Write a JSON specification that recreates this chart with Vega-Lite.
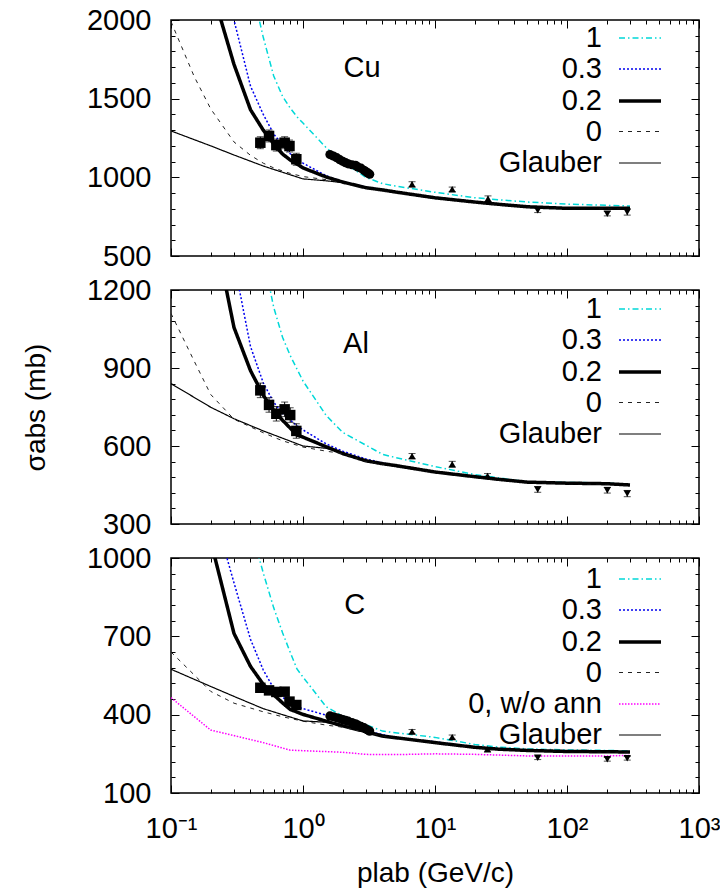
{
"$schema": "https://vega.github.io/schema/vega-lite/v6.json",
"background": "white",
"padding": {"left": 21, "top": 5, "right": 5, "bottom": 5},
"datasets": {
"curves": [
{"panel":"Cu","model":"1","p":0.4,"s":2240},{"panel":"Cu","model":"1","p":0.5,"s":1890},{"panel":"Cu","model":"1","p":0.6,"s":1644},{"panel":"Cu","model":"1","p":0.7,"s":1515},{"panel":"Cu","model":"1","p":0.8,"s":1440},{"panel":"Cu","model":"1","p":0.9,"s":1385},{"panel":"Cu","model":"1","p":1,"s":1345},{"panel":"Cu","model":"1","p":1.5,"s":1188},{"panel":"Cu","model":"1","p":2,"s":1098},{"panel":"Cu","model":"1","p":3,"s":1000},{"panel":"Cu","model":"1","p":4,"s":960},{"panel":"Cu","model":"1","p":5,"s":945},{"panel":"Cu","model":"1","p":10,"s":905},{"panel":"Cu","model":"1","p":20,"s":870},{"panel":"Cu","model":"1","p":30,"s":858},{"panel":"Cu","model":"1","p":50,"s":843},{"panel":"Cu","model":"1","p":100,"s":830},{"panel":"Cu","model":"1","p":200,"s":822},{"panel":"Cu","model":"1","p":300,"s":818},
{"panel":"Cu","model":"0.3","p":0.28,"s":2110},{"panel":"Cu","model":"0.3","p":0.3,"s":2000},{"panel":"Cu","model":"0.3","p":0.4,"s":1580},{"panel":"Cu","model":"0.3","p":0.5,"s":1400},{"panel":"Cu","model":"0.3","p":0.6,"s":1275},{"panel":"Cu","model":"0.3","p":0.7,"s":1205},{"panel":"Cu","model":"0.3","p":0.8,"s":1150},{"panel":"Cu","model":"0.3","p":0.9,"s":1115},{"panel":"Cu","model":"0.3","p":1,"s":1090},{"panel":"Cu","model":"0.3","p":1.5,"s":1010},{"panel":"Cu","model":"0.3","p":2,"s":972},{"panel":"Cu","model":"0.3","p":3,"s":938},{"panel":"Cu","model":"0.3","p":5,"s":908},{"panel":"Cu","model":"0.3","p":10,"s":872},{"panel":"Cu","model":"0.3","p":20,"s":845},{"panel":"Cu","model":"0.3","p":30,"s":831},{"panel":"Cu","model":"0.3","p":50,"s":815},{"panel":"Cu","model":"0.3","p":100,"s":805},{"panel":"Cu","model":"0.3","p":200,"s":804},{"panel":"Cu","model":"0.3","p":300,"s":804},
{"panel":"Cu","model":"0.2","p":0.2,"s":2220},{"panel":"Cu","model":"0.2","p":0.3,"s":1718},{"panel":"Cu","model":"0.2","p":0.4,"s":1430},{"panel":"Cu","model":"0.2","p":0.5,"s":1300},{"panel":"Cu","model":"0.2","p":0.6,"s":1212},{"panel":"Cu","model":"0.2","p":0.7,"s":1148},{"panel":"Cu","model":"0.2","p":0.8,"s":1110},{"panel":"Cu","model":"0.2","p":0.9,"s":1085},{"panel":"Cu","model":"0.2","p":1,"s":1060},{"panel":"Cu","model":"0.2","p":1.5,"s":1002},{"panel":"Cu","model":"0.2","p":2,"s":970},{"panel":"Cu","model":"0.2","p":3,"s":934},{"panel":"Cu","model":"0.2","p":4,"s":920},{"panel":"Cu","model":"0.2","p":5,"s":907},{"panel":"Cu","model":"0.2","p":10,"s":870},{"panel":"Cu","model":"0.2","p":20,"s":843},{"panel":"Cu","model":"0.2","p":30,"s":829},{"panel":"Cu","model":"0.2","p":50,"s":813},{"panel":"Cu","model":"0.2","p":100,"s":803},{"panel":"Cu","model":"0.2","p":200,"s":803},{"panel":"Cu","model":"0.2","p":300,"s":803},
{"panel":"Cu","model":"0","p":0.1,"s":1990},{"panel":"Cu","model":"0","p":0.15,"s":1640},{"panel":"Cu","model":"0","p":0.2,"s":1435},{"panel":"Cu","model":"0","p":0.3,"s":1225},{"panel":"Cu","model":"0","p":0.4,"s":1140},{"panel":"Cu","model":"0","p":0.5,"s":1090},{"panel":"Cu","model":"0","p":0.6,"s":1060},{"panel":"Cu","model":"0","p":0.7,"s":1040},{"panel":"Cu","model":"0","p":0.8,"s":1025},{"panel":"Cu","model":"0","p":1,"s":1005},{"panel":"Cu","model":"0","p":1.5,"s":985},{"panel":"Cu","model":"0","p":2,"s":965},{"panel":"Cu","model":"0","p":3,"s":930},{"panel":"Cu","model":"0","p":5,"s":903},{"panel":"Cu","model":"0","p":10,"s":868},{"panel":"Cu","model":"0","p":20,"s":841},{"panel":"Cu","model":"0","p":30,"s":827},{"panel":"Cu","model":"0","p":50,"s":811},{"panel":"Cu","model":"0","p":100,"s":801},{"panel":"Cu","model":"0","p":200,"s":801},{"panel":"Cu","model":"0","p":300,"s":801},
{"panel":"Cu","model":"Glauber","p":0.1,"s":1295},{"panel":"Cu","model":"Glauber","p":0.2,"s":1200},{"panel":"Cu","model":"Glauber","p":0.3,"s":1142},{"panel":"Cu","model":"Glauber","p":0.5,"s":1072},{"panel":"Cu","model":"Glauber","p":0.7,"s":1032},{"panel":"Cu","model":"Glauber","p":1,"s":990},{"panel":"Cu","model":"Glauber","p":1.5,"s":978},{"panel":"Cu","model":"Glauber","p":2,"s":966},{"panel":"Cu","model":"Glauber","p":3,"s":933},{"panel":"Cu","model":"Glauber","p":5,"s":904},{"panel":"Cu","model":"Glauber","p":10,"s":868},{"panel":"Cu","model":"Glauber","p":20,"s":842},{"panel":"Cu","model":"Glauber","p":30,"s":828},{"panel":"Cu","model":"Glauber","p":50,"s":812},{"panel":"Cu","model":"Glauber","p":100,"s":802},{"panel":"Cu","model":"Glauber","p":200,"s":800},{"panel":"Cu","model":"Glauber","p":300,"s":800},

{"panel":"Al","model":"1","p":0.5,"s":1330},{"panel":"Al","model":"1","p":0.6,"s":1133},{"panel":"Al","model":"1","p":0.7,"s":1018},{"panel":"Al","model":"1","p":0.8,"s":948},{"panel":"Al","model":"1","p":0.9,"s":896},{"panel":"Al","model":"1","p":1,"s":850},{"panel":"Al","model":"1","p":1.5,"s":717},{"panel":"Al","model":"1","p":2,"s":652},{"panel":"Al","model":"1","p":3,"s":603},{"panel":"Al","model":"1","p":4,"s":568},{"panel":"Al","model":"1","p":5,"s":556},{"panel":"Al","model":"1","p":10,"s":521},{"panel":"Al","model":"1","p":20,"s":490},{"panel":"Al","model":"1","p":30,"s":478},{"panel":"Al","model":"1","p":50,"s":462},{"panel":"Al","model":"1","p":100,"s":460},{"panel":"Al","model":"1","p":200,"s":458},{"panel":"Al","model":"1","p":300,"s":451},
{"panel":"Al","model":"0.3","p":0.3,"s":1308},{"panel":"Al","model":"0.3","p":0.4,"s":983},{"panel":"Al","model":"0.3","p":0.5,"s":843},{"panel":"Al","model":"0.3","p":0.6,"s":768},{"panel":"Al","model":"0.3","p":0.7,"s":725},{"panel":"Al","model":"0.3","p":0.8,"s":700},{"panel":"Al","model":"0.3","p":0.9,"s":678},{"panel":"Al","model":"0.3","p":1,"s":662},{"panel":"Al","model":"0.3","p":1.5,"s":608},{"panel":"Al","model":"0.3","p":2,"s":580},{"panel":"Al","model":"0.3","p":3,"s":550},{"panel":"Al","model":"0.3","p":5,"s":524},{"panel":"Al","model":"0.3","p":10,"s":501},{"panel":"Al","model":"0.3","p":20,"s":481},{"panel":"Al","model":"0.3","p":30,"s":471},{"panel":"Al","model":"0.3","p":50,"s":461},{"panel":"Al","model":"0.3","p":100,"s":458},{"panel":"Al","model":"0.3","p":200,"s":456},{"panel":"Al","model":"0.3","p":300,"s":451},
{"panel":"Al","model":"0.2","p":0.2,"s":1500},{"panel":"Al","model":"0.2","p":0.3,"s":1056},{"panel":"Al","model":"0.2","p":0.4,"s":890},{"panel":"Al","model":"0.2","p":0.5,"s":795},{"panel":"Al","model":"0.2","p":0.6,"s":737},{"panel":"Al","model":"0.2","p":0.7,"s":699},{"panel":"Al","model":"0.2","p":0.8,"s":669},{"panel":"Al","model":"0.2","p":0.9,"s":642},{"panel":"Al","model":"0.2","p":1,"s":634},{"panel":"Al","model":"0.2","p":1.5,"s":597},{"panel":"Al","model":"0.2","p":2,"s":571},{"panel":"Al","model":"0.2","p":3,"s":543},{"panel":"Al","model":"0.2","p":4,"s":532},{"panel":"Al","model":"0.2","p":5,"s":525},{"panel":"Al","model":"0.2","p":10,"s":500},{"panel":"Al","model":"0.2","p":20,"s":482},{"panel":"Al","model":"0.2","p":30,"s":472},{"panel":"Al","model":"0.2","p":50,"s":461},{"panel":"Al","model":"0.2","p":100,"s":457},{"panel":"Al","model":"0.2","p":200,"s":455},{"panel":"Al","model":"0.2","p":300,"s":450},
{"panel":"Al","model":"0","p":0.1,"s":1110},{"panel":"Al","model":"0","p":0.15,"s":926},{"panel":"Al","model":"0","p":0.2,"s":798},{"panel":"Al","model":"0","p":0.3,"s":703},{"panel":"Al","model":"0","p":0.5,"s":651},{"panel":"Al","model":"0","p":0.7,"s":620},{"panel":"Al","model":"0","p":1,"s":596},{"panel":"Al","model":"0","p":1.5,"s":580},{"panel":"Al","model":"0","p":2,"s":571},{"panel":"Al","model":"0","p":3,"s":541},{"panel":"Al","model":"0","p":5,"s":521},{"panel":"Al","model":"0","p":10,"s":498},{"panel":"Al","model":"0","p":20,"s":480},{"panel":"Al","model":"0","p":30,"s":470},{"panel":"Al","model":"0","p":50,"s":459},{"panel":"Al","model":"0","p":100,"s":455},{"panel":"Al","model":"0","p":200,"s":453},{"panel":"Al","model":"0","p":300,"s":449},
{"panel":"Al","model":"Glauber","p":0.1,"s":840},{"panel":"Al","model":"Glauber","p":0.2,"s":749},{"panel":"Al","model":"Glauber","p":0.3,"s":705},{"panel":"Al","model":"Glauber","p":0.5,"s":658},{"panel":"Al","model":"Glauber","p":0.7,"s":630},{"panel":"Al","model":"Glauber","p":1,"s":600},{"panel":"Al","model":"Glauber","p":1.5,"s":591},{"panel":"Al","model":"Glauber","p":2,"s":574},{"panel":"Al","model":"Glauber","p":3,"s":544},{"panel":"Al","model":"Glauber","p":5,"s":522},{"panel":"Al","model":"Glauber","p":10,"s":499},{"panel":"Al","model":"Glauber","p":20,"s":481},{"panel":"Al","model":"Glauber","p":30,"s":471},{"panel":"Al","model":"Glauber","p":50,"s":460},{"panel":"Al","model":"Glauber","p":100,"s":456},{"panel":"Al","model":"Glauber","p":200,"s":454},{"panel":"Al","model":"Glauber","p":300,"s":450},

{"panel":"C","model":"1","p":0.4,"s":1120},{"panel":"C","model":"1","p":0.5,"s":943},{"panel":"C","model":"1","p":0.6,"s":809},{"panel":"C","model":"1","p":0.7,"s":714},{"panel":"C","model":"1","p":0.8,"s":639},{"panel":"C","model":"1","p":0.9,"s":575},{"panel":"C","model":"1","p":1,"s":544},{"panel":"C","model":"1","p":1.5,"s":430},{"panel":"C","model":"1","p":2,"s":395},{"panel":"C","model":"1","p":3,"s":362},{"panel":"C","model":"1","p":4,"s":337},{"panel":"C","model":"1","p":5,"s":331},{"panel":"C","model":"1","p":10,"s":313},{"panel":"C","model":"1","p":20,"s":286},{"panel":"C","model":"1","p":30,"s":276},{"panel":"C","model":"1","p":50,"s":269},{"panel":"C","model":"1","p":100,"s":265},{"panel":"C","model":"1","p":200,"s":263},{"panel":"C","model":"1","p":300,"s":261},
{"panel":"C","model":"0.3","p":0.2,"s":1220},{"panel":"C","model":"0.3","p":0.3,"s":905},{"panel":"C","model":"0.3","p":0.4,"s":689},{"panel":"C","model":"0.3","p":0.5,"s":571},{"panel":"C","model":"0.3","p":0.6,"s":501},{"panel":"C","model":"0.3","p":0.7,"s":468},{"panel":"C","model":"0.3","p":0.8,"s":438},{"panel":"C","model":"0.3","p":0.9,"s":430},{"panel":"C","model":"0.3","p":1,"s":423},{"panel":"C","model":"0.3","p":1.5,"s":398},{"panel":"C","model":"0.3","p":2,"s":372},{"panel":"C","model":"0.3","p":3,"s":338},{"panel":"C","model":"0.3","p":5,"s":313},{"panel":"C","model":"0.3","p":10,"s":296},{"panel":"C","model":"0.3","p":20,"s":276},{"panel":"C","model":"0.3","p":30,"s":269},{"panel":"C","model":"0.3","p":50,"s":263},{"panel":"C","model":"0.3","p":100,"s":259},{"panel":"C","model":"0.3","p":200,"s":258},{"panel":"C","model":"0.3","p":300,"s":258},
{"panel":"C","model":"0.2","p":0.2,"s":1065},{"panel":"C","model":"0.2","p":0.3,"s":711},{"panel":"C","model":"0.2","p":0.4,"s":585},{"panel":"C","model":"0.2","p":0.5,"s":516},{"panel":"C","model":"0.2","p":0.6,"s":476},{"panel":"C","model":"0.2","p":0.7,"s":445},{"panel":"C","model":"0.2","p":0.8,"s":420},{"panel":"C","model":"0.2","p":0.9,"s":410},{"panel":"C","model":"0.2","p":1,"s":401},{"panel":"C","model":"0.2","p":1.5,"s":375},{"panel":"C","model":"0.2","p":2,"s":357},{"panel":"C","model":"0.2","p":3,"s":335},{"panel":"C","model":"0.2","p":4,"s":318},{"panel":"C","model":"0.2","p":5,"s":312},{"panel":"C","model":"0.2","p":10,"s":293},{"panel":"C","model":"0.2","p":20,"s":275},{"panel":"C","model":"0.2","p":30,"s":268},{"panel":"C","model":"0.2","p":50,"s":263},{"panel":"C","model":"0.2","p":100,"s":259},{"panel":"C","model":"0.2","p":200,"s":258},{"panel":"C","model":"0.2","p":300,"s":257},
{"panel":"C","model":"0","p":0.1,"s":640},{"panel":"C","model":"0","p":0.15,"s":552},{"panel":"C","model":"0","p":0.2,"s":489},{"panel":"C","model":"0","p":0.3,"s":444},{"panel":"C","model":"0","p":0.5,"s":411},{"panel":"C","model":"0","p":0.7,"s":392},{"panel":"C","model":"0","p":1,"s":375},{"panel":"C","model":"0","p":1.5,"s":360},{"panel":"C","model":"0","p":2,"s":352},{"panel":"C","model":"0","p":3,"s":332},{"panel":"C","model":"0","p":5,"s":310},{"panel":"C","model":"0","p":10,"s":292},{"panel":"C","model":"0","p":20,"s":274},{"panel":"C","model":"0","p":30,"s":267},{"panel":"C","model":"0","p":50,"s":262},{"panel":"C","model":"0","p":100,"s":258},{"panel":"C","model":"0","p":200,"s":257},{"panel":"C","model":"0","p":300,"s":256},
{"panel":"C","model":"0, w/o ann","p":0.1,"s":465},{"panel":"C","model":"0, w/o ann","p":0.2,"s":341},{"panel":"C","model":"0, w/o ann","p":0.5,"s":293},{"panel":"C","model":"0, w/o ann","p":0.8,"s":264},{"panel":"C","model":"0, w/o ann","p":1,"s":262},{"panel":"C","model":"0, w/o ann","p":2,"s":256},{"panel":"C","model":"0, w/o ann","p":3,"s":248},{"panel":"C","model":"0, w/o ann","p":5,"s":247},{"panel":"C","model":"0, w/o ann","p":10,"s":250},{"panel":"C","model":"0, w/o ann","p":20,"s":248},{"panel":"C","model":"0, w/o ann","p":50,"s":242},{"panel":"C","model":"0, w/o ann","p":100,"s":242},{"panel":"C","model":"0, w/o ann","p":200,"s":242},{"panel":"C","model":"0, w/o ann","p":300,"s":244},
{"panel":"C","model":"Glauber","p":0.1,"s":574},{"panel":"C","model":"Glauber","p":0.2,"s":508},{"panel":"C","model":"Glauber","p":0.3,"s":470},{"panel":"C","model":"Glauber","p":0.5,"s":423},{"panel":"C","model":"Glauber","p":0.7,"s":400},{"panel":"C","model":"Glauber","p":1,"s":376},{"panel":"C","model":"Glauber","p":1.5,"s":371},{"panel":"C","model":"Glauber","p":2,"s":360},{"panel":"C","model":"Glauber","p":3,"s":336},{"panel":"C","model":"Glauber","p":5,"s":311},{"panel":"C","model":"Glauber","p":10,"s":293},{"panel":"C","model":"Glauber","p":20,"s":275},{"panel":"C","model":"Glauber","p":30,"s":268},{"panel":"C","model":"Glauber","p":50,"s":262},{"panel":"C","model":"Glauber","p":100,"s":259},{"panel":"C","model":"Glauber","p":200,"s":258},{"panel":"C","model":"Glauber","p":300,"s":257}
],
"points": [
{"panel":"Cu","kind":"sq","p":0.475,"s":1220,"lo":1182,"hi":1258},{"panel":"Cu","kind":"sq","p":0.553,"s":1263,"lo":1225,"hi":1301},{"panel":"Cu","kind":"sq","p":0.628,"s":1205,"lo":1167,"hi":1243},{"panel":"Cu","kind":"sq","p":0.726,"s":1220,"lo":1182,"hi":1258},{"panel":"Cu","kind":"sq","p":0.79,"s":1199,"lo":1161,"hi":1237},{"panel":"Cu","kind":"sq","p":0.89,"s":1115,"lo":1077,"hi":1153},
{"panel":"Cu","kind":"ci","p":1.6,"s":1145},{"panel":"Cu","kind":"ci","p":1.7,"s":1135},{"panel":"Cu","kind":"ci","p":1.8,"s":1125},{"panel":"Cu","kind":"ci","p":1.9,"s":1112},{"panel":"Cu","kind":"ci","p":2.0,"s":1102},{"panel":"Cu","kind":"ci","p":2.1,"s":1093},{"panel":"Cu","kind":"ci","p":2.2,"s":1086},{"panel":"Cu","kind":"ci","p":2.35,"s":1080},{"panel":"Cu","kind":"ci","p":2.5,"s":1076},{"panel":"Cu","kind":"ci","p":2.6,"s":1066},{"panel":"Cu","kind":"ci","p":2.75,"s":1058},{"panel":"Cu","kind":"ci","p":2.9,"s":1045},{"panel":"Cu","kind":"ci","p":3.0,"s":1036},{"panel":"Cu","kind":"ci","p":3.1,"s":1028},{"panel":"Cu","kind":"ci","p":3.2,"s":1020},
{"panel":"Cu","kind":"tu","p":6.7,"s":956,"lo":940,"hi":972},{"panel":"Cu","kind":"tu","p":13.5,"s":924,"lo":910,"hi":938},{"panel":"Cu","kind":"tu","p":25.2,"s":864,"lo":846,"hi":882},{"panel":"Cu","kind":"td","p":60,"s":790,"lo":776,"hi":804},{"panel":"Cu","kind":"td","p":202,"s":769,"lo":755,"hi":783},{"panel":"Cu","kind":"td","p":286,"s":780,"lo":760,"hi":800},

{"panel":"Al","kind":"sq","p":0.475,"s":814,"lo":786,"hi":842},{"panel":"Al","kind":"sq","p":0.553,"s":758,"lo":730,"hi":786},{"panel":"Al","kind":"sq","p":0.628,"s":724,"lo":696,"hi":752},{"panel":"Al","kind":"sq","p":0.726,"s":741,"lo":713,"hi":769},{"panel":"Al","kind":"sq","p":0.8,"s":719,"lo":691,"hi":747},{"panel":"Al","kind":"sq","p":0.89,"s":658,"lo":630,"hi":686},
{"panel":"Al","kind":"tu","p":6.7,"s":561,"lo":551,"hi":571},{"panel":"Al","kind":"tu","p":13.5,"s":530,"lo":519,"hi":541},{"panel":"Al","kind":"tu","p":25,"s":485,"lo":476,"hi":494},{"panel":"Al","kind":"td","p":60,"s":433,"lo":422,"hi":444},{"panel":"Al","kind":"td","p":202,"s":430,"lo":419,"hi":441},{"panel":"Al","kind":"td","p":286,"s":417,"lo":405,"hi":429},

{"panel":"C","kind":"sq","p":0.475,"s":503,"lo":490,"hi":516},{"panel":"C","kind":"sq","p":0.553,"s":493,"lo":480,"hi":506},{"panel":"C","kind":"sq","p":0.628,"s":487,"lo":474,"hi":500},{"panel":"C","kind":"sq","p":0.726,"s":488,"lo":475,"hi":501},{"panel":"C","kind":"sq","p":0.79,"s":450,"lo":437,"hi":463},{"panel":"C","kind":"sq","p":0.89,"s":437,"lo":424,"hi":450},
{"panel":"C","kind":"ci","p":1.6,"s":395},{"panel":"C","kind":"ci","p":1.7,"s":392},{"panel":"C","kind":"ci","p":1.8,"s":388},{"panel":"C","kind":"ci","p":1.9,"s":385},{"panel":"C","kind":"ci","p":2.0,"s":381},{"panel":"C","kind":"ci","p":2.1,"s":378},{"panel":"C","kind":"ci","p":2.2,"s":375},{"panel":"C","kind":"ci","p":2.35,"s":370},{"panel":"C","kind":"ci","p":2.5,"s":365},{"panel":"C","kind":"ci","p":2.6,"s":360},{"panel":"C","kind":"ci","p":2.75,"s":355},{"panel":"C","kind":"ci","p":2.9,"s":350},{"panel":"C","kind":"ci","p":3.0,"s":345},{"panel":"C","kind":"ci","p":3.1,"s":341},{"panel":"C","kind":"ci","p":3.2,"s":337},
{"panel":"C","kind":"tu","p":6.7,"s":335,"lo":327,"hi":343},{"panel":"C","kind":"tu","p":13.5,"s":314,"lo":306,"hi":322},{"panel":"C","kind":"tu","p":25,"s":267,"lo":260,"hi":274},{"panel":"C","kind":"td","p":60,"s":235,"lo":228,"hi":242},{"panel":"C","kind":"td","p":202,"s":229,"lo":222,"hi":236},{"panel":"C","kind":"td","p":286,"s":233,"lo":226,"hi":240}
]
},
"spacing": 34,
"bounds": "flush",
"resolve": {
"scale": {"y": "independent", "color": "independent", "strokeDash": "independent", "strokeWidth": "independent", "shape": "independent"},
"legend": {"color": "independent", "strokeDash": "independent", "strokeWidth": "independent"}
},
"vconcat": [
{
"width": 528, "height": 236,
"resolve": {"axis": {"x": "independent", "y": "independent"}},
"layer": [
{"data": {"name": "curves"}, "transform": [{"filter": "datum.panel === 'Cu'"}],
"mark": {"type": "line", "clip": true},
"encoding": {
"x": {"field": "p", "type": "quantitative", "scale": {"type": "log", "domain": [0.1, 1000]},
"axis": {"orient": "bottom", "values": [0.1,0.2,0.3,0.4,0.5,0.6,0.7,0.8,0.9,1,2,3,4,5,6,7,8,9,10,20,30,40,50,60,70,80,90,100,200,300,400,500,600,700,800,900,1000], "labels": false, "title": null,
"tickSize": {"condition": {"test": "abs(log(datum.value)/LN10 - round(log(datum.value)/LN10)) < 0.001", "value": -8}, "value": -4}}},
"y": {"field": "s", "type": "quantitative", "scale": {"domain": [500, 2000], "nice": false, "zero": false},
"axis": {"orient": "left", "values": [500,600,700,800,900,1000,1100,1200,1300,1400,1500,1600,1700,1800,1900,2000], "format": "d", "title": null, "labelPadding": 28,
"labelExpr": "datum.value % 500 === 0 ? datum.label : ''",
"tickSize": {"condition": {"test": "datum.value % 500 === 0", "value": -8}, "value": -4}}},
"color": {"field": "model", "type": "nominal", "scale": {"domain": ["1","0.3","0.2","0","Glauber"], "range": ["#00d8d8","#0000ee","#000000","#222222","#000000"]}, "legend": {"title": null, "orient": "none", "legendX": 453, "legendY": 3}},
"strokeDash": {"field": "model", "type": "nominal", "scale": {"type": "ordinal", "domain": ["1","0.3","0.2","0","Glauber"], "range": [[6,3,1.5,3],[2,2],[1,0],[4,5],[1,0]]}, "legend": {"title": null, "orient": "none", "legendX": 453, "legendY": 3}},
"strokeWidth": {"field": "model", "type": "nominal", "scale": {"type": "ordinal", "domain": ["1","0.3","0.2","0","Glauber"], "range": [1.5,1.5,3.5,1,1.2]}, "legend": {"title": null, "orient": "none", "legendX": 453, "legendY": 3}}
}},
{"data": {"name": "points"}, "transform": [{"filter": "datum.panel === 'Cu' && isValid(datum.hi)"}],
"mark": {"type": "errorbar", "ticks": {"size": 7}, "color": "#000"},
"encoding": {"x": {"field": "p", "type": "quantitative", "axis": null}, "y": {"field": "lo", "type": "quantitative", "axis": null}, "y2": {"field": "hi"}}},
{"data": {"name": "points"}, "transform": [{"filter": "datum.panel === 'Cu' && datum.kind === 'sq'"}],
"mark": {"type": "square", "filled": true, "size": 110, "color": "#000", "opacity": 1},
"encoding": {"x": {"field": "p", "type": "quantitative", "axis": null}, "y": {"field": "s", "type": "quantitative", "axis": null}}},
{"data": {"name": "points"}, "transform": [{"filter": "datum.panel === 'Cu' && datum.kind === 'ci'"}],
"mark": {"type": "circle", "size": 85, "color": "#000", "opacity": 1},
"encoding": {"x": {"field": "p", "type": "quantitative", "axis": null}, "y": {"field": "s", "type": "quantitative", "axis": null}}},
{"data": {"name": "points"}, "transform": [{"filter": "datum.panel === 'Cu' && (datum.kind === 'tu' || datum.kind === 'td')"}],
"mark": {"type": "point", "filled": true, "size": 55, "color": "#000", "opacity": 1},
"encoding": {"x": {"field": "p", "type": "quantitative", "axis": null}, "y": {"field": "s", "type": "quantitative", "axis": null},
"shape": {"field": "kind", "type": "nominal", "scale": {"domain": ["tu","td"], "range": ["triangle-up","triangle-down"]}, "legend": null}}},
{"data": {"values": [{"label": "Cu", "p": 2.8, "s": 1692}]},
"mark": {"type": "text", "fontSize": 29, "font": "Liberation Sans", "color": "#000"},
"encoding": {
"x": {"field": "p", "type": "quantitative", "axis": {"orient": "top", "values": [0.1,0.2,0.3,0.4,0.5,0.6,0.7,0.8,0.9,1,2,3,4,5,6,7,8,9,10,20,30,40,50,60,70,80,90,100,200,300,400,500,600,700,800,900,1000], "labels": false, "title": null,
"tickSize": {"condition": {"test": "abs(log(datum.value)/LN10 - round(log(datum.value)/LN10)) < 0.001", "value": -8}, "value": -4}}},
"y": {"field": "s", "type": "quantitative", "axis": {"orient": "right", "values": [500,600,700,800,900,1000,1100,1200,1300,1400,1500,1600,1700,1800,1900,2000], "labels": false, "title": null,
"tickSize": {"condition": {"test": "datum.value % 500 === 0", "value": -8}, "value": -4}}},
"text": {"field": "label"}}}
]
},
{
"width": 528, "height": 234,
"resolve": {"axis": {"x": "independent", "y": "independent"}},
"layer": [
{"data": {"name": "curves"}, "transform": [{"filter": "datum.panel === 'Al'"}],
"mark": {"type": "line", "clip": true},
"encoding": {
"x": {"field": "p", "type": "quantitative", "scale": {"type": "log", "domain": [0.1, 1000]},
"axis": {"orient": "bottom", "values": [0.1,0.2,0.3,0.4,0.5,0.6,0.7,0.8,0.9,1,2,3,4,5,6,7,8,9,10,20,30,40,50,60,70,80,90,100,200,300,400,500,600,700,800,900,1000], "labels": false, "title": null,
"tickSize": {"condition": {"test": "abs(log(datum.value)/LN10 - round(log(datum.value)/LN10)) < 0.001", "value": -8}, "value": -4}}},
"y": {"field": "s", "type": "quantitative", "scale": {"domain": [300, 1200], "nice": false, "zero": false},
"axis": {"orient": "left", "values": [300,360,420,480,540,600,660,720,780,840,900,960,1020,1080,1140,1200], "format": "d", "title": "σabs (mb)", "titlePadding": 36, "labelPadding": 28,
"labelExpr": "datum.value % 300 === 0 ? datum.label : ''",
"tickSize": {"condition": {"test": "datum.value % 300 === 0", "value": -8}, "value": -4}}},
"color": {"field": "model", "type": "nominal", "scale": {"domain": ["1","0.3","0.2","0","Glauber"], "range": ["#00d8d8","#0000ee","#000000","#222222","#000000"]}, "legend": {"title": null, "orient": "none", "legendX": 453, "legendY": 4}},
"strokeDash": {"field": "model", "type": "nominal", "scale": {"type": "ordinal", "domain": ["1","0.3","0.2","0","Glauber"], "range": [[6,3,1.5,3],[2,2],[1,0],[4,5],[1,0]]}, "legend": {"title": null, "orient": "none", "legendX": 453, "legendY": 4}},
"strokeWidth": {"field": "model", "type": "nominal", "scale": {"type": "ordinal", "domain": ["1","0.3","0.2","0","Glauber"], "range": [1.5,1.5,3.5,1,1.2]}, "legend": {"title": null, "orient": "none", "legendX": 453, "legendY": 4}}
}},
{"data": {"name": "points"}, "transform": [{"filter": "datum.panel === 'Al' && isValid(datum.hi)"}],
"mark": {"type": "errorbar", "ticks": {"size": 7}, "color": "#000"},
"encoding": {"x": {"field": "p", "type": "quantitative", "axis": null}, "y": {"field": "lo", "type": "quantitative", "axis": null}, "y2": {"field": "hi"}}},
{"data": {"name": "points"}, "transform": [{"filter": "datum.panel === 'Al' && datum.kind === 'sq'"}],
"mark": {"type": "square", "filled": true, "size": 110, "color": "#000", "opacity": 1},
"encoding": {"x": {"field": "p", "type": "quantitative", "axis": null}, "y": {"field": "s", "type": "quantitative", "axis": null}}},
{"data": {"name": "points"}, "transform": [{"filter": "datum.panel === 'Al' && (datum.kind === 'tu' || datum.kind === 'td')"}],
"mark": {"type": "point", "filled": true, "size": 55, "color": "#000", "opacity": 1},
"encoding": {"x": {"field": "p", "type": "quantitative", "axis": null}, "y": {"field": "s", "type": "quantitative", "axis": null},
"shape": {"field": "kind", "type": "nominal", "scale": {"domain": ["tu","td"], "range": ["triangle-up","triangle-down"]}, "legend": null}}},
{"data": {"values": [{"label": "Al", "p": 2.52, "s": 994}]},
"mark": {"type": "text", "fontSize": 29, "font": "Liberation Sans", "color": "#000"},
"encoding": {
"x": {"field": "p", "type": "quantitative", "axis": {"orient": "top", "values": [0.1,0.2,0.3,0.4,0.5,0.6,0.7,0.8,0.9,1,2,3,4,5,6,7,8,9,10,20,30,40,50,60,70,80,90,100,200,300,400,500,600,700,800,900,1000], "labels": false, "title": null,
"tickSize": {"condition": {"test": "abs(log(datum.value)/LN10 - round(log(datum.value)/LN10)) < 0.001", "value": -8}, "value": -4}}},
"y": {"field": "s", "type": "quantitative", "axis": {"orient": "right", "values": [300,360,420,480,540,600,660,720,780,840,900,960,1020,1080,1140,1200], "labels": false, "title": null,
"tickSize": {"condition": {"test": "datum.value % 300 === 0", "value": -8}, "value": -4}}},
"text": {"field": "label"}}}
]
},
{
"width": 528, "height": 235,
"resolve": {"axis": {"x": "independent", "y": "independent"}},
"layer": [
{"data": {"name": "curves"}, "transform": [{"filter": "datum.panel === 'C'"}],
"mark": {"type": "line", "clip": true},
"encoding": {
"x": {"field": "p", "type": "quantitative", "scale": {"type": "log", "domain": [0.1, 1000]},
"axis": {"orient": "bottom", "values": [0.1,0.2,0.3,0.4,0.5,0.6,0.7,0.8,0.9,1,2,3,4,5,6,7,8,9,10,20,30,40,50,60,70,80,90,100,200,300,400,500,600,700,800,900,1000], "title": "plab (GeV/c)", "titlePadding": 12, "labelPadding": 29,
"labelExpr": "abs(log(datum.value)/LN10 - round(log(datum.value)/LN10)) < 0.001 ? '10' + ['⁻¹','⁰','¹','²','³'][round(log(datum.value)/LN10) + 1] : ''",
"tickSize": {"condition": {"test": "abs(log(datum.value)/LN10 - round(log(datum.value)/LN10)) < 0.001", "value": -8}, "value": -4}}},
"y": {"field": "s", "type": "quantitative", "scale": {"domain": [100, 1000], "nice": false, "zero": false},
"axis": {"orient": "left", "values": [100,160,220,280,340,400,460,520,580,640,700,760,820,880,940,1000], "format": "d", "title": null, "labelPadding": 28,
"labelExpr": "(datum.value - 100) % 300 === 0 ? datum.label : ''",
"tickSize": {"condition": {"test": "(datum.value - 100) % 300 === 0", "value": -8}, "value": -4}}},
"color": {"field": "model", "type": "nominal", "scale": {"domain": ["1","0.3","0.2","0","0, w/o ann","Glauber"], "range": ["#00d8d8","#0000ee","#000000","#222222","#ff00ff","#000000"]}, "legend": {"title": null, "orient": "none", "legendX": 453, "legendY": 6}},
"strokeDash": {"field": "model", "type": "nominal", "scale": {"type": "ordinal", "domain": ["1","0.3","0.2","0","0, w/o ann","Glauber"], "range": [[6,3,1.5,3],[2,2],[1,0],[4,5],[1.5,1.5],[1,0]]}, "legend": {"title": null, "orient": "none", "legendX": 453, "legendY": 6}},
"strokeWidth": {"field": "model", "type": "nominal", "scale": {"type": "ordinal", "domain": ["1","0.3","0.2","0","0, w/o ann","Glauber"], "range": [1.5,1.5,3.5,1,1.5,1.2]}, "legend": {"title": null, "orient": "none", "legendX": 453, "legendY": 6}}
}},
{"data": {"name": "points"}, "transform": [{"filter": "datum.panel === 'C' && isValid(datum.hi)"}],
"mark": {"type": "errorbar", "ticks": {"size": 7}, "color": "#000"},
"encoding": {"x": {"field": "p", "type": "quantitative", "axis": null}, "y": {"field": "lo", "type": "quantitative", "axis": null}, "y2": {"field": "hi"}}},
{"data": {"name": "points"}, "transform": [{"filter": "datum.panel === 'C' && datum.kind === 'sq'"}],
"mark": {"type": "square", "filled": true, "size": 110, "color": "#000", "opacity": 1},
"encoding": {"x": {"field": "p", "type": "quantitative", "axis": null}, "y": {"field": "s", "type": "quantitative", "axis": null}}},
{"data": {"name": "points"}, "transform": [{"filter": "datum.panel === 'C' && datum.kind === 'ci'"}],
"mark": {"type": "circle", "size": 85, "color": "#000", "opacity": 1},
"encoding": {"x": {"field": "p", "type": "quantitative", "axis": null}, "y": {"field": "s", "type": "quantitative", "axis": null}}},
{"data": {"name": "points"}, "transform": [{"filter": "datum.panel === 'C' && (datum.kind === 'tu' || datum.kind === 'td')"}],
"mark": {"type": "point", "filled": true, "size": 55, "color": "#000", "opacity": 1},
"encoding": {"x": {"field": "p", "type": "quantitative", "axis": null}, "y": {"field": "s", "type": "quantitative", "axis": null},
"shape": {"field": "kind", "type": "nominal", "scale": {"domain": ["tu","td"], "range": ["triangle-up","triangle-down"]}, "legend": null}}},
{"data": {"values": [{"label": "C", "p": 2.46, "s": 820}]},
"mark": {"type": "text", "fontSize": 29, "font": "Liberation Sans", "color": "#000"},
"encoding": {
"x": {"field": "p", "type": "quantitative", "axis": {"orient": "top", "values": [0.1,0.2,0.3,0.4,0.5,0.6,0.7,0.8,0.9,1,2,3,4,5,6,7,8,9,10,20,30,40,50,60,70,80,90,100,200,300,400,500,600,700,800,900,1000], "labels": false, "title": null,
"tickSize": {"condition": {"test": "abs(log(datum.value)/LN10 - round(log(datum.value)/LN10)) < 0.001", "value": -8}, "value": -4}}},
"y": {"field": "s", "type": "quantitative", "axis": {"orient": "right", "values": [100,160,220,280,340,400,460,520,580,640,700,760,820,880,940,1000], "labels": false, "title": null,
"tickSize": {"condition": {"test": "(datum.value - 100) % 300 === 0", "value": -8}, "value": -4}}},
"text": {"field": "label"}}}
]
}
],
"config": {
"font": "Liberation Sans",
"view": {"stroke": "#000", "strokeWidth": 1.5},
"axis": {"domain": false, "grid": false, "labelFont": "Liberation Sans", "labelFontSize": 29, "labelColor": "#000", "titleFont": "Liberation Sans", "titleFontSize": 28, "titleFontWeight": "normal", "titleColor": "#000", "tickColor": "#000", "tickWidth": 1, "labelOverlap": false, "labelBound": false, "labelFlush": false},
"legend": {"padding": 0, "labelFont": "Liberation Sans", "labelFontSize": 29, "labelColor": "#000", "symbolType": "M-1.5,0H1.5", "symbolSize": 784, "labelAlign": "right", "labelOffset": -54, "rowPadding": 1, "labelLimit": 300}
}
}
